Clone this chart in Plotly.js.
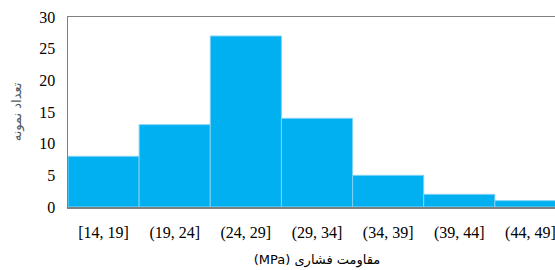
<!DOCTYPE html>
<html><head><meta charset="utf-8">
<script src="https://cdn.plot.ly/plotly-3.0.1.min.js"></script>
<style>html,body{margin:0;padding:0;overflow:hidden;background:#fff}</style>
</head><body><div id="chart"></div>
<script>
const categories = ["[14, 19]", "(19, 24]", "(24, 29]", "(29, 34]", "(34, 39]", "(39, 44]", "(44, 49]"];
const counts = [8, 13, 27, 14, 5, 2, 1];
const yTicks = [0, 5, 10, 15, 20, 25, 30];
const xTitle = "(MPa) مقاومت فشاری";
const yTitle = "تعداد نمونه";

const serif = "Liberation Serif, Times New Roman, DejaVu Serif, serif";
const arab = "DejaVu Sans, Noto Sans, sans-serif";

Plotly.newPlot("chart", [{
  type: "bar",
  x: categories,
  y: counts,
  marker: {color: "#00B0F0", line: {color: "#7fd3f5", width: 1}},
  hoverinfo: "none"
}], {
  width: 566, height: 270,
  margin: {l: 68, r: 0, t: 17, b: 63},
  bargap: 0,
  paper_bgcolor: "#fff", plot_bgcolor: "#fff",
  showlegend: false,
  xaxis: {
    type: "category",
    range: [-0.5, 6.5],
    showline: true, linecolor: "#808080", linewidth: 1.5, mirror: true,
    showgrid: false, ticks: "", ticklabelstandoff: 10,
    tickfont: {family: serif, size: 16, color: "#000"},
    title: {text: xTitle, font: {family: arab, size: 13, color: "#000"}, standoff: 14},
    automargin: false
  },
  yaxis: {
    range: [0, 30],
    tickvals: yTicks,
    showline: true, linecolor: "#808080", linewidth: 1.5, mirror: true,
    showgrid: false, zeroline: false, ticks: "", ticklabelstandoff: 8,
    tickfont: {family: serif, size: 16, color: "#000"},
    title: {text: yTitle, font: {family: arab, size: 13, color: "#595959"}, standoff: 14},
    automargin: false
  }
}, {displayModeBar: false, staticPlot: true});
</script></body></html>
